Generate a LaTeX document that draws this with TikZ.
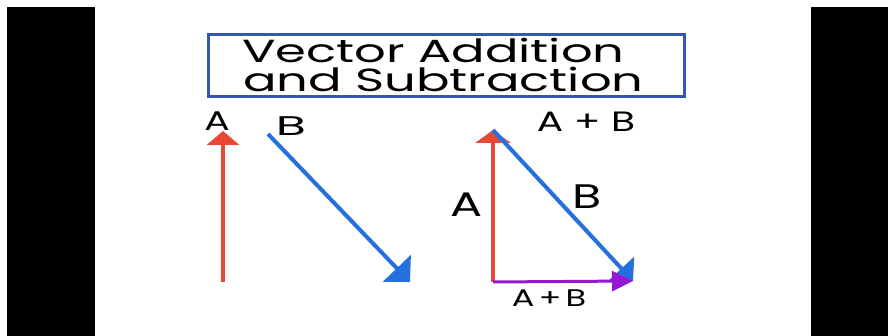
\documentclass[tikz,border=0pt]{standalone}
\usepackage{fontspec}
\newfontfamily\handfont{Poppins}[FakeStretch=1.4]
\newfontfamily\titlefont{Poppins}[FakeStretch=1.55]
\usetikzlibrary{arrows.meta}

\definecolor{vecred}{RGB}{232,72,52}
\definecolor{vecblue}{RGB}{36,112,222}
\definecolor{vecpurple}{RGB}{150,24,210}
\definecolor{framebl}{RGB}{52,88,178}

\begin{document}
\begin{tikzpicture}[
    x=1pt, y=1pt,
    vec/.style={line width=4pt, -{Triangle[length=14pt, width=32pt]}},
    lbl/.style={font=\handfont\fontsize{25}{25}\selectfont, inner sep=0pt},
    biglbl/.style={font=\handfont\fontsize{34}{34}\selectfont, inner sep=0pt},
    title/.style={font=\titlefont\fontsize{32}{32}\selectfont, inner sep=0pt, anchor=base west}
]
    \useasboundingbox (0,0) rectangle (888,336);
    \fill [white] (0,0) rectangle (888,336);
    \fill [black] (7,0) rectangle (95,329);
    \fill [black] (811,0) rectangle (888,329);

    % title box
    \node [draw=framebl, line width=3pt, minimum width=476pt, minimum height=62pt, anchor=north west] (frame) at (207,303) {};
    \node [title] (line1) at (242,273) {Vector Addition};
    \node [title] (line2) at (243,244) {and Subtraction};

    % the two vectors
    \coordinate (atail) at (223,54);
    \coordinate (atip) at (223,205);
    \coordinate (btail) at (268,202);
    \coordinate (btip) at (410,54);
    \draw [vec, vecred] (atail) -- (atip);
    \draw [vec, vecblue, -{Triangle[length=19pt, width=38pt]}] (btail) -- (btip);
    \node [lbl, font=\handfont\fontsize{27}{27}\selectfont] (alabel) at (217,215) {A};
    \node [lbl, font=\handfont\fontsize{27}{27}\selectfont] (blabel) at (291,210) {\scalebox{1.3}[1]{B}};

    % head to tail
    \coordinate (sumtail) at (493,54);
    \coordinate (sumtop) at (493,206);
    \coordinate (sumtip) at (633,55);
    \draw [vec, vecred, -{Triangle[length=13pt, width=35pt]}] (sumtail) -- (sumtop);
    \draw [vec, vecblue, -{Triangle[length=17pt, width=34pt]}] (sumtop) -- (sumtip);
    \draw [vec, vecpurple, line width=3pt, -{Triangle[length=21pt, width=20pt]}] (sumtail) -- (sumtip);
    \node [lbl, font=\handfont\fontsize{28}{28}\selectfont] (sumlabel) at (586,214) {A + B};
    \node [biglbl] (alabel2) at (467,131) {A};
    \node [biglbl] (blabel2) at (587,139) {B};
    \node [lbl, font=\handfont\fontsize{24}{24}\selectfont] (sumlabel2) at (549,38) {A\,+\,B};
\end{tikzpicture}
\end{document}
